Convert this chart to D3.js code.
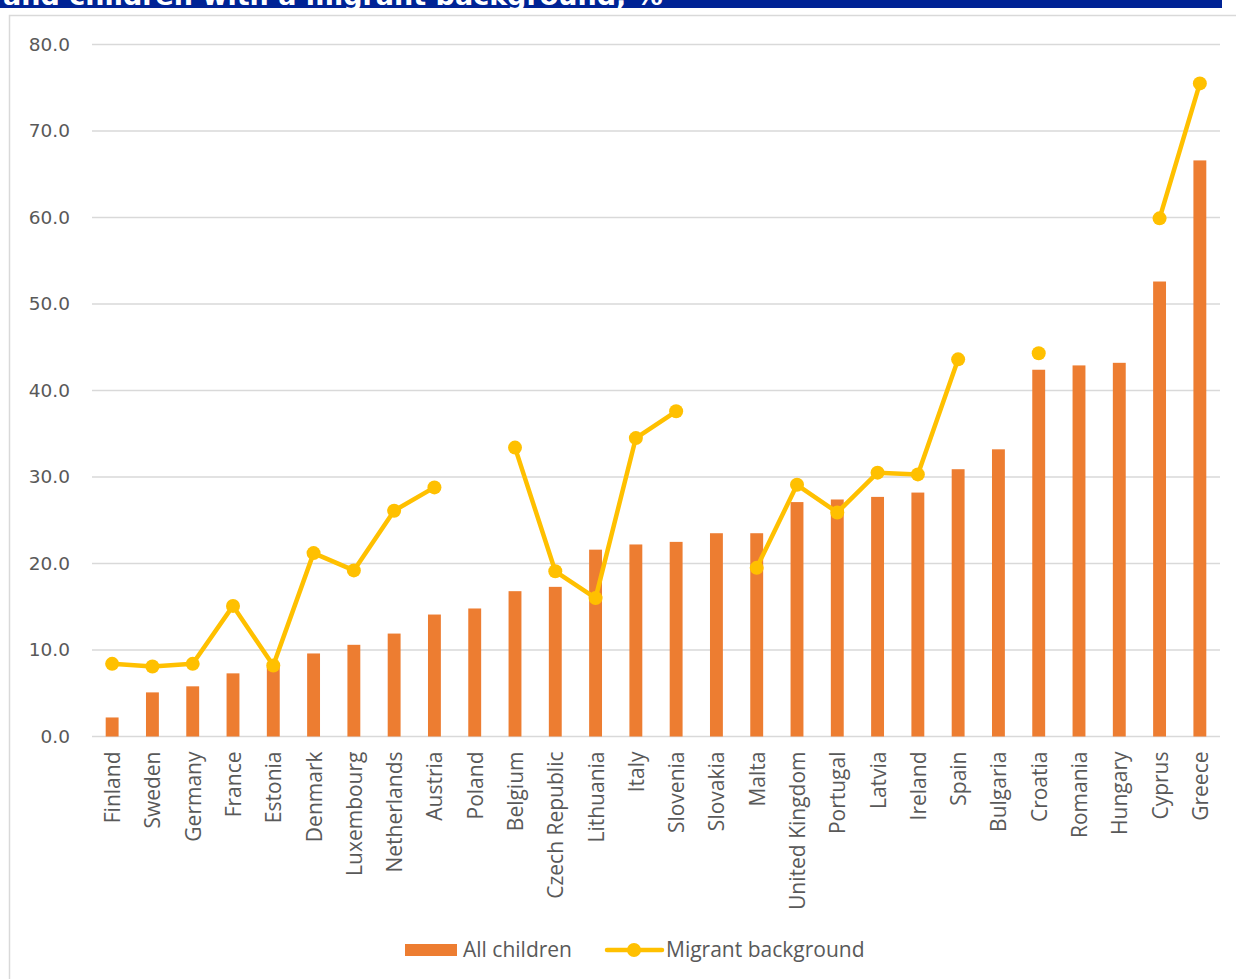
<!DOCTYPE html>
<html>
<head>
<meta charset="utf-8">
<script src="https://cdn.jsdelivr.net/npm/d3@7"></script>
<style>
html,body{margin:0;padding:0;background:#fff;}
svg{display:block;}
</style>
</head>
<body>
<svg id="chart" width="1236" height="979"></svg>
<script>
const countries = ["Finland","Sweden","Germany","France","Estonia","Denmark","Luxembourg","Netherlands","Austria","Poland","Belgium","Czech Republic","Lithuania","Italy","Slovenia","Slovakia","Malta","United Kingdom","Portugal","Latvia","Ireland","Spain","Bulgaria","Croatia","Romania","Hungary","Cyprus","Greece"];
const allChildren = [2.2,5.1,5.8,7.3,8.1,9.6,10.6,11.9,14.1,14.8,16.8,17.3,21.6,22.2,22.5,23.5,23.5,27.1,27.4,27.7,28.2,30.9,33.2,42.4,42.9,43.2,52.6,66.6];
const migrant = [8.4,8.1,8.4,15.1,8.2,21.2,19.2,26.1,28.8,null,33.4,19.1,16.0,34.5,37.6,null,19.5,29.1,25.9,30.5,30.3,43.6,null,44.3,null,null,59.9,75.5];
const yTicks = [0,10,20,30,40,50,60,70,80];
const seriesNames = ["All children","Migrant background"];
const titleText = "and children with a migrant background, %";

(function(){
const svg = d3.select("#chart");

// title bar (cut off at top, as in the reference)
svg.append("defs").append("clipPath").attr("id","tclip")
  .append("rect").attr("x",0).attr("y",0).attr("width",1222).attr("height",8);
svg.append("rect").attr("x",0).attr("y",0).attr("width",1222).attr("height",8).attr("fill","#002395");
svg.append("text").attr("clip-path","url(#tclip)")
  .attr("x",3).attr("y",5)
  .attr("font-family","DejaVu Sans").attr("font-weight","bold").attr("font-size",27)
  .attr("fill","#fff").text(titleText);

// chart frame
svg.append("rect").attr("x",9.5).attr("y",15.5).attr("width",1240).attr("height",980)
  .attr("fill","none").attr("stroke","#d9d9d9").attr("stroke-width",1.5);

const pl = 92, pr = 1220, pt = 44.5, pb = 736.5;
const x = d3.scaleBand().domain(countries).range([pl,pr]).paddingInner(0.68).paddingOuter(0.34);
const y = d3.scaleLinear().domain([0,80]).range([pb,pt]);

// gridlines
svg.append("g").selectAll("line").data(yTicks).join("line")
  .attr("x1",pl).attr("x2",pr)
  .attr("y1",d=>y(d)).attr("y2",d=>y(d))
  .attr("stroke","#d9d9d9").attr("stroke-width",1.5);

// y axis labels
const yAxis = d3.axisLeft(y).tickValues(yTicks).tickFormat(d3.format(".1f")).tickSize(0).tickPadding(22);
const gy = svg.append("g").attr("transform",`translate(${pl},0)`).call(yAxis);
gy.select(".domain").remove();
gy.selectAll("text").attr("font-family","DejaVu Sans").attr("font-size",18.5).attr("fill","#595959");

// bars
svg.append("g").selectAll("rect").data(countries).join("rect")
  .attr("x",d=>x(d)).attr("width",x.bandwidth())
  .attr("y",(d,i)=>y(allChildren[i])).attr("height",(d,i)=>y(0)-y(allChildren[i]))
  .attr("fill","#ED7D31");

// x axis labels
const xAxis = d3.axisBottom(x).tickSize(0).tickPadding(0);
const gx = svg.append("g").attr("transform",`translate(0,${pb})`).call(xAxis);
gx.select(".domain").remove();
gx.selectAll("text")
  .attr("font-family","Open Sans").attr("font-size",21).attr("fill","#595959")
  .attr("text-anchor","end").attr("dy",null)
  .attr("transform","translate(8,15) rotate(-90)");

// line
const pts = countries.map((c,i)=>({c, v: migrant[i]}));
const line = d3.line().defined(d=>d.v!==null)
  .x(d=>x(d.c)+x.bandwidth()/2).y(d=>y(d.v));
svg.append("path").datum(pts).attr("d",line)
  .attr("fill","none").attr("stroke","#FFC000").attr("stroke-width",4.5).attr("stroke-linejoin","round");
svg.append("g").selectAll("circle").data(pts.filter(d=>d.v!==null)).join("circle")
  .attr("cx",d=>x(d.c)+x.bandwidth()/2).attr("cy",d=>y(d.v)).attr("r",7)
  .attr("fill","#FFC000");

// legend
const lg = svg.append("g");
lg.append("rect").attr("x",405).attr("y",944).attr("width",52).attr("height",12).attr("fill","#ED7D31");
lg.append("text").attr("x",463).attr("y",957).attr("font-family","Open Sans").attr("font-size",21)
  .attr("fill","#595959").text(seriesNames[0]);
lg.append("line").attr("x1",607).attr("x2",662).attr("y1",950).attr("y2",950)
  .attr("stroke","#FFC000").attr("stroke-width",4.5).attr("stroke-linecap","round");
lg.append("circle").attr("cx",634).attr("cy",950).attr("r",7).attr("fill","#FFC000");
lg.append("text").attr("x",666).attr("y",957).attr("font-family","Open Sans").attr("font-size",21)
  .attr("fill","#595959").text(seriesNames[1]);
})();
</script>
</body>
</html>
